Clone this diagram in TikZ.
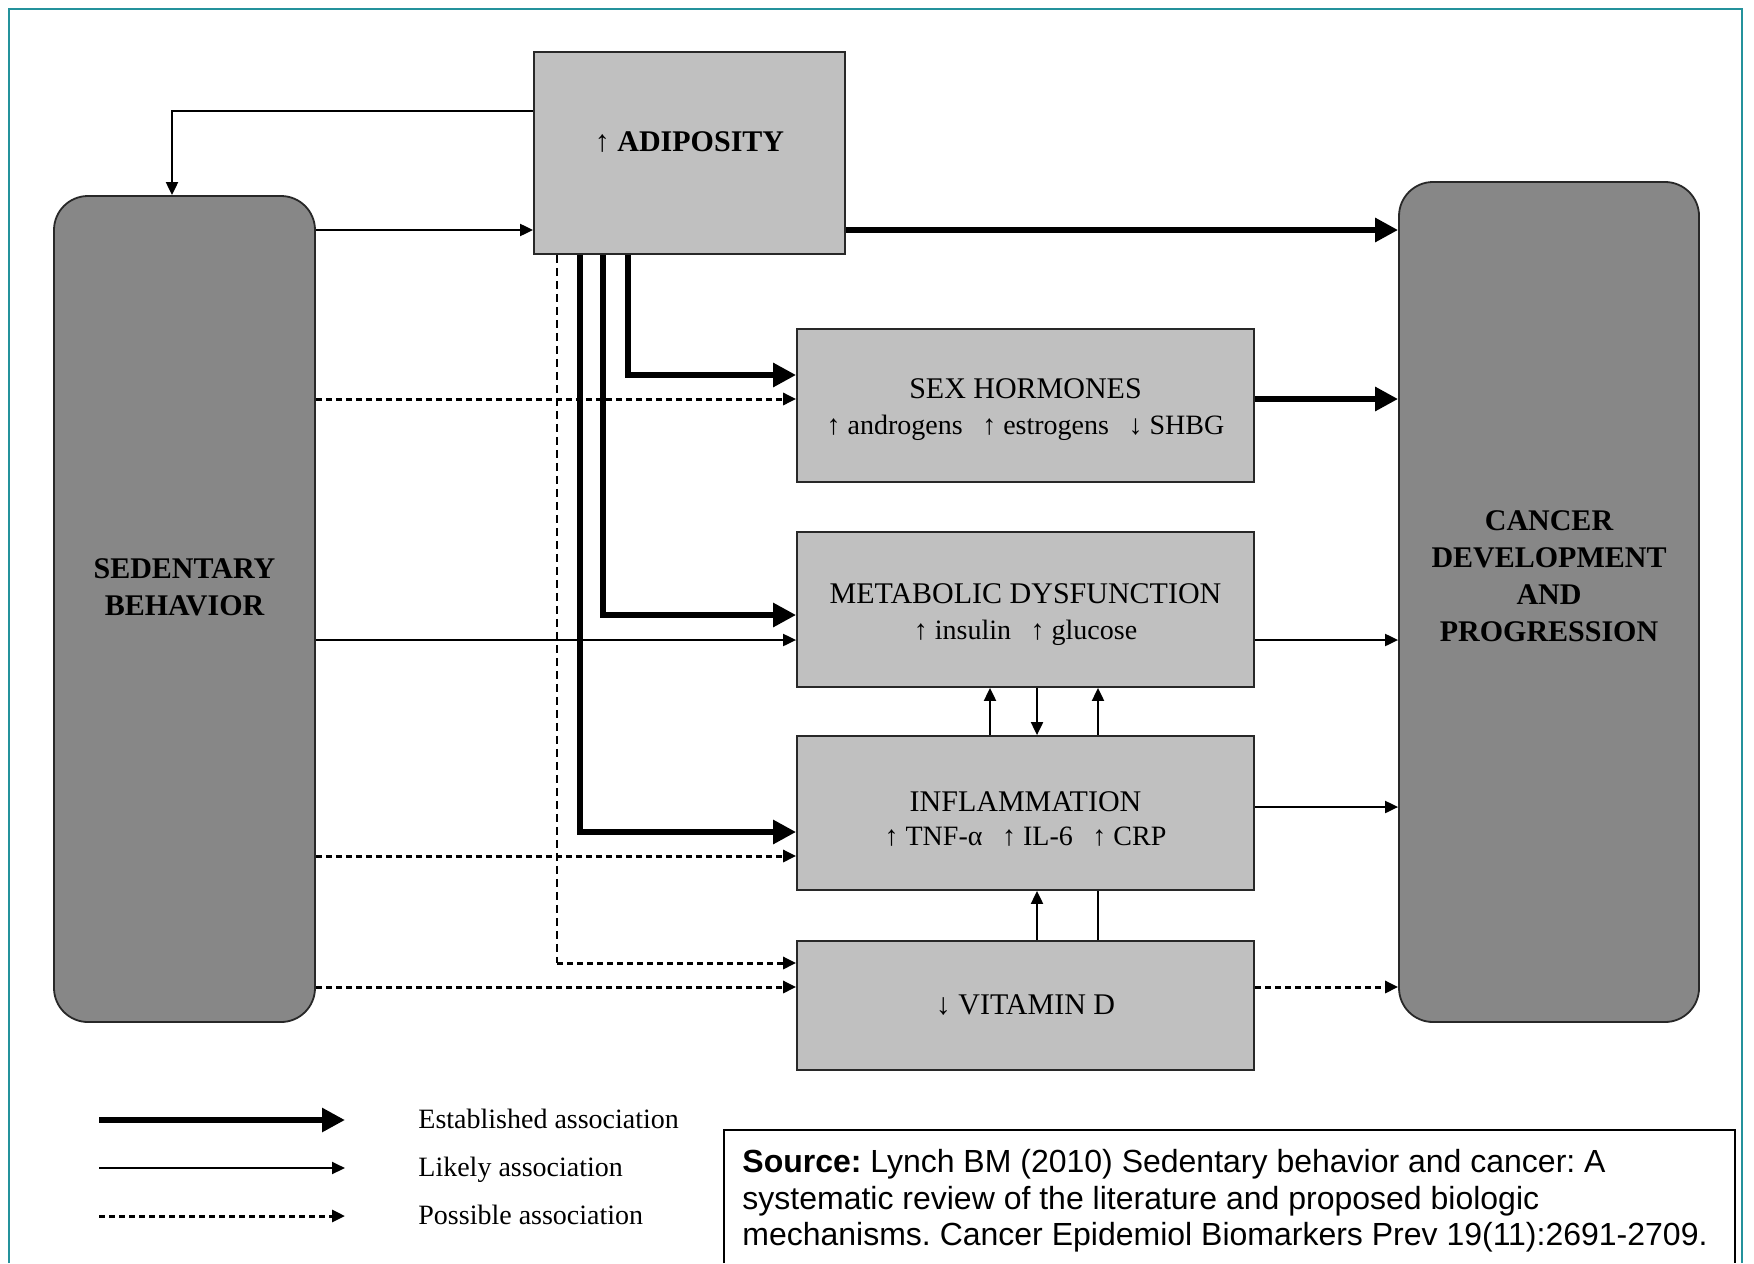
\documentclass[tikz,border=0pt]{standalone}
\usepackage{fontspec}
\setmainfont{Liberation Serif}
\setsansfont{Liberation Sans}
\usetikzlibrary{arrows.meta}
\definecolor{framecol}{RGB}{36,146,156}
\definecolor{darkfill}{RGB}{135,135,135}
\definecolor{lightfill}{RGB}{192,192,192}
\definecolor{edgecol}{RGB}{40,40,40}
\newcommand{\subsz}{\fontsize{14pt}{18pt}\selectfont}
\frenchspacing
\begin{document}
\begin{tikzpicture}[x=0.5pt,y=-0.5pt,
  darkbox/.style={draw=edgecol, line width=0.9pt, fill=darkfill, rounded corners=17pt, inner sep=0pt},
  lightbox/.style={draw=edgecol, line width=0.9pt, fill=lightfill, inner sep=0pt, minimum width=228.5pt},
  boldlab/.style={font=\fontsize{15pt}{18.5pt}\selectfont\bfseries, align=center, inner sep=0pt, text=black},
  boxlab/.style={font=\fontsize{15pt}{18pt}\selectfont, align=center, inner sep=0pt, text=black},
  estarr/.style={line width=3.2pt, -{Triangle[length=11.5pt,width=11.5pt]}},
  likarr/.style={line width=1pt, -{Triangle[length=6.5pt,width=6pt]}},
  posarr/.style={line width=1.5pt, dash pattern=on 3pt off 2pt, -{Triangle[length=6.5pt,width=6pt]}},
  posvert/.style={line width=0.8pt, dash pattern=on 4pt off 2.5pt},
  legtxt/.style={font=\fontsize{14pt}{16pt}\selectfont, inner sep=0pt, anchor=base west},
  srctxt/.style={font=\sffamily\fontsize{16pt}{18pt}\selectfont, inner sep=0pt, anchor=base west},
]
\useasboundingbox (0,0) rectangle (1754,1263);
\fill[white] (0,0) rectangle (1754,1263);
\draw[framecol, line width=1pt] (9,1263) -- (9,9) -- (1742,9) -- (1742,1263);

% named coordinates for connector levels
\coordinate (fb) at (172,111);
\coordinate (yAd) at (0,230);
\coordinate (ySH) at (0,399);
\coordinate (yME) at (0,640);
\coordinate (yIN1) at (0,807);
\coordinate (yIN2) at (0,856);
\coordinate (yVD) at (0,987);
\coordinate (c1) at (628,375);
\coordinate (c2) at (603,615);
\coordinate (c3) at (580,832);
\coordinate (c4) at (557,963);
\coordinate (xa) at (990,0);
\coordinate (xb) at (1037,0);
\coordinate (xc) at (1098,0);

% boxes
\node[draw=edgecol, line width=0.9pt, fill=lightfill, inner sep=0pt, minimum width=155.5pt, minimum height=101pt] (adip) at (689.5,153) {};
\node[darkbox, minimum width=130.5pt, minimum height=413pt] (sed) at (184.5,609) {};
\node[darkbox, minimum width=150pt, minimum height=420pt] (canc) at (1549,602) {};
\node[lightbox, minimum height=76.5pt] (sex) at (1025.5,405.5) {};
\node[lightbox, minimum height=77.5pt] (meta) at (1025.5,609.5) {};
\node[lightbox, minimum height=64.5pt] (vitd) at (1025.5,1005.5) {};
\draw[likarr] (vitd.north -| xc) -- (meta.south -| xc);
\node[lightbox, minimum height=77pt] (infl) at (1025.5,813) {};

% labels
\node[boldlab] (adipt) at (689.5,142) {↑ ADIPOSITY};
\node[boldlab] (sedt) at (184.5,587.5) {SEDENTARY\\BEHAVIOR};
\node[boldlab] (canct) at (1549,576.5) {CANCER\\DEVELOPMENT\\AND\\PROGRESSION};
\node[boxlab] (sext) at (1025.5,410) {SEX HORMONES\\{\subsz ↑ androgens\hspace{0.7em}↑ estrogens\hspace{0.7em}↓ SHBG}};
\node[boxlab] (metat) at (1025.5,615) {METABOLIC DYSFUNCTION\\{\subsz ↑ insulin\hspace{0.7em}↑ glucose}};
\node[boxlab, font=\fontsize{15pt}{17pt}\selectfont] (inflt) at (1025.5,818.5) {INFLAMMATION\\{\subsz ↑ TNF-α\hspace{0.7em}↑ IL-6\hspace{0.7em}↑ CRP}};
\node[boxlab] (vitdt) at (1025.5,1005) {↓ VITAMIN D};

% connectors
\draw[likarr] (adip.west |- fb) -| (sed.north -| fb);
\draw[likarr] (sed.east |- yAd) -- (adip.west |- yAd);
\draw[estarr] (adip.east |- yAd) -- (canc.west |- yAd);
\draw[posvert] (adip.south -| c4) -- (c4);
\draw[posarr] (c4) -- (vitd.west |- c4);
\draw[posarr] (sed.east |- ySH) -- (sex.west |- ySH);
\draw[likarr] (sed.east |- yME) -- (meta.west |- yME);
\draw[posarr] (sed.east |- yIN2) -- (infl.west |- yIN2);
\draw[posarr] (sed.east |- yVD) -- (vitd.west |- yVD);
\draw[estarr] (adip.south -| c1) |- (sex.west |- c1);
\draw[estarr] (adip.south -| c2) |- (meta.west |- c2);
\draw[estarr] (adip.south -| c3) |- (infl.west |- c3);
\draw[estarr] (sex.east |- ySH) -- (canc.west |- ySH);
\draw[likarr] (meta.east |- yME) -- (canc.west |- yME);
\draw[likarr] (infl.east |- yIN1) -- (canc.west |- yIN1);
\draw[posarr] (vitd.east |- yVD) -- (canc.west |- yVD);
\draw[likarr] (infl.north -| xa) -- (meta.south -| xa);
\draw[likarr] (meta.south -| xb) -- (infl.north -| xb);
\draw[likarr] (vitd.north -| xb) -- (infl.south -| xb);

% legend
\coordinate (l1s) at (99,1120); \coordinate (l1e) at (345,1120);
\coordinate (l2s) at (99,1168); \coordinate (l2e) at (345,1168);
\coordinate (l3s) at (99,1216); \coordinate (l3e) at (345,1216);
\draw[estarr] (l1s) -- (l1e);
\draw[likarr] (l2s) -- (l2e);
\draw[posarr] (l3s) -- (l3e);
\node[legtxt] (lt1) at (418,1128) {Established association};
\node[legtxt] (lt2) at (418,1176) {Likely association};
\node[legtxt] (lt3) at (418,1224) {Possible association};

% source box
\draw[black, line width=1.1pt] (724,1263) -- (724,1130) -- (1735,1130) -- (1735,1263);
\node[srctxt] (src1) at (742,1172) {\textbf{Source:} Lynch BM (2010) Sedentary behavior and cancer: A};
\node[srctxt] (src2) at (742,1209) {systematic review of the literature and proposed biologic};
\node[srctxt] (src3) at (742,1245) {mechanisms. Cancer Epidemiol Biomarkers Prev 19(11):2691-2709.};
\end{tikzpicture}
\end{document}
